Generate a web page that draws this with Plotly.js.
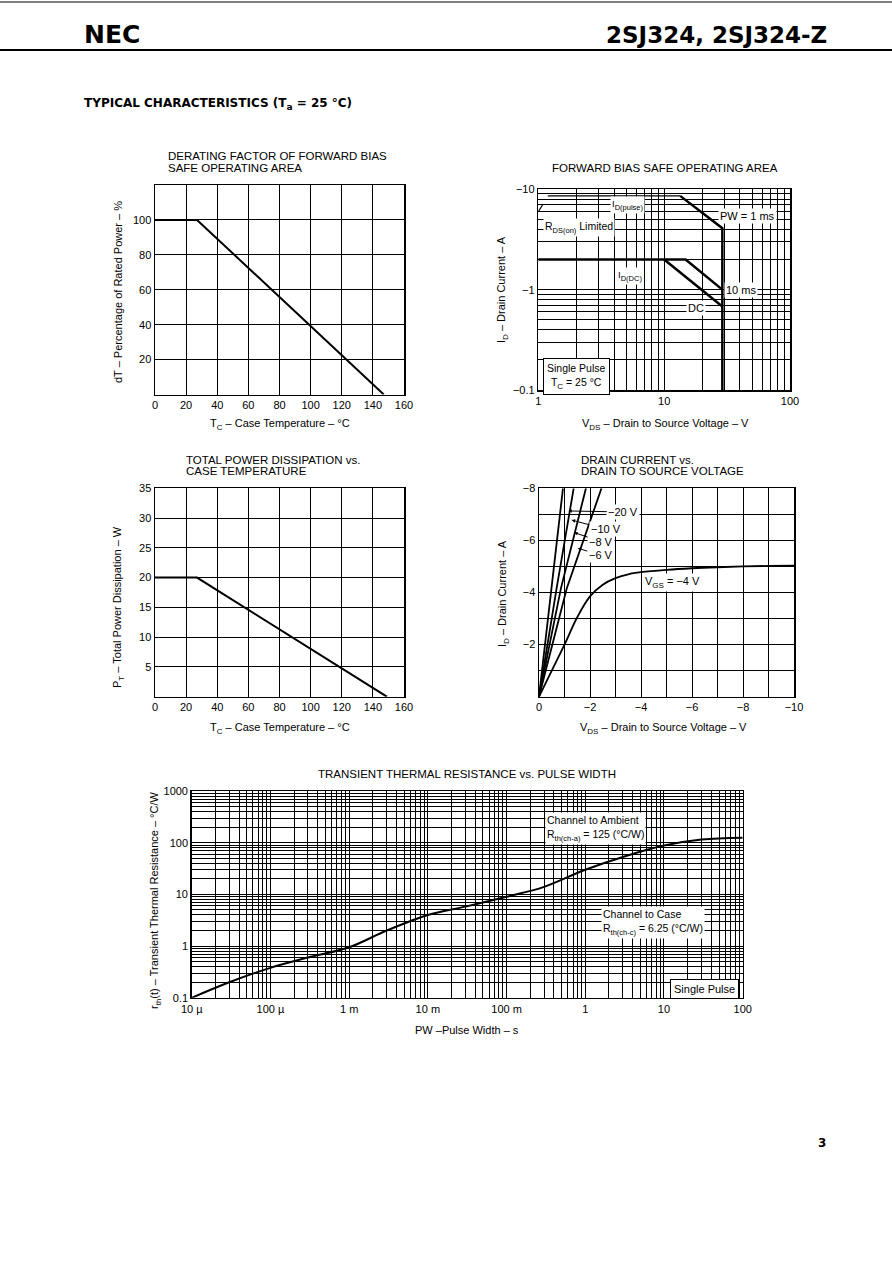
<!DOCTYPE html>
<html><head><meta charset="utf-8">
<script src="https://cdn.plot.ly/plotly-3.0.1.min.js"></script>
<style>html,body{margin:0;padding:0;background:#fff}#page{width:892px;height:1263px}</style>
</head><body><div id="page"></div>
<script>
// ---------------- data ----------------
// Derating factor of FBSOA
const derateTempC = [0, 27, 147];
const deratePct   = [100, 100, 0];
// Total power dissipation
const pdTempC = [0, 27, 149];
const pdWatt  = [20, 20, 0];
// Forward bias SOA (magnitudes: |VDS| in V, |ID| in A)
const rdsV   = [1, 1.2];        const rdsI   = [6.0, 8.6];
const pulseV = [1.2, 13.4];     const pulseI = [8.6, 8.6];
const pw1msV = [13.4, 29, 29];  const pw1msI = [8.6, 4.1, 0.1];
const pw10msV = [1, 14.8, 29];  const pw10msI = [2, 2, 1.0];
const dcV    = [10, 29];        const dcI    = [2, 0.68];
const soaXTickVals = [1, 10, 100];   const soaXTicks = ['1', '10', '100'];
const soaYTickVals = [0.1, 1, 10];   const soaYTicks = ['\u22120.1', '\u22121', '\u221210'];
// Drain current vs drain to source voltage
const vgs4V = [0, -0.5, -1, -1.5, -2, -2.5, -3, -3.5, -4, -5, -6, -7, -8, -9, -10];
const vgs4I = [0, -1.0, -2.0, -3.05, -3.85, -4.3, -4.55, -4.7, -4.78, -4.87, -4.93, -4.97, -5.0, -5.02, -5.03];
const vgs20V = [0, -0.5, -0.94];  const vgs20I = [0, -4.16, -8];
const vgs10V = [0, -0.69, -1.36]; const vgs10I = [0, -4.16, -8];
const vgs8V  = [0, -0.86, -1.84]; const vgs8I  = [0, -4.16, -8];
const vgs6V  = [0, -1.09, -2.45]; const vgs6I  = [0, -4.16, -8];
const vdsTickVals = [0, -2, -4, -6, -8, -10];
const vdsTicks = ['0', '\u22122', '\u22124', '\u22126', '\u22128', '\u221210'];
const idTickVals = [-2, -4, -6, -8];
const idTicks = ['\u22122', '\u22124', '\u22126', '\u22128'];
// Transient thermal resistance
const pwSec = [1e-5, 3e-5, 1e-4, 3e-4, 1e-3, 3e-3, 1e-2, 3e-2, 0.1, 0.3, 1, 3, 10, 30, 100];
const rthCW = [0.1, 0.2, 0.38, 0.6, 0.95, 2.0, 4.0, 5.8, 9, 14, 30, 53, 88, 115, 125];
const pwTickVals = [1e-5, 1e-4, 1e-3, 1e-2, 0.1, 1, 10, 100];
const pwTickText = ['10 \u00b5', '100 \u00b5', '1 m', '10 m', '100 m', '1', '10', '100'];
const rthTickVals = [0.1, 1, 10, 100, 1000];
const rthTickText = ['0.1', '1', '10', '100', '1000'];
// Temperature axes
const tempTicks = [0, 20, 40, 60, 80, 100, 120, 140, 160];
const pctTicks = [20, 40, 60, 80, 100];
const wattTicks = [5, 10, 15, 20, 25, 30, 35];

// ---------------- helpers ----------------
const W = 892, H = 1263;
const px = x => x / W;
const py = y => 1 - y / H;
const FONT = 'Liberation Sans, Arial, Helvetica, sans-serif';
const BOLD = 'DejaVu Sans, Liberation Sans, Arial, sans-serif';
// subscript as a styled span (no extra baseline-reset element)
const sb = (s, fs) => '<span style="font-size:' + (fs || 8) + 'px;baseline-shift:-3px">' + s + '</span>';

// minor grid positions of a log axis (2..9 in each decade)
function logMinor(e0, e1) {
  const v = [];
  for (let e = e0; e < e1; e++)
    for (let m = 2; m <= 9; m++) v.push(parseFloat((m * Math.pow(10, e)).toPrecision(3)));
  return v;
}

function axis(domain, range, tickvals, ticktext, anchor, type, minorVals) {
  const a = {
    domain: domain, range: range, anchor: anchor,
    showline: true, mirror: true, linecolor: '#000', linewidth: 1.5,
    showgrid: true, gridcolor: '#000', gridwidth: 1, zeroline: false,
    ticks: '', tickmode: 'array', tickvals: tickvals, ticktext: ticktext,
    tickfont: {family: FONT, size: 11, color: '#000'}, fixedrange: true
  };
  if (type) a.type = type;
  if (minorVals) a.minor = {tickmode: 'array', tickvals: minorVals, showgrid: true,
                            gridcolor: '#000', gridwidth: 1, ticks: ''};
  return a;
}

const line = (x, y, xa, ya, w, dash, shape) => ({
  x: x, y: y, xaxis: xa, yaxis: ya, type: 'scatter', mode: 'lines',
  line: {color: '#000', width: w || 2, dash: dash || 'solid', shape: shape || 'linear'},
  hoverinfo: 'skip'
});

// ---------------- traces ----------------
const traces = [
  line(derateTempC, deratePct, 'x', 'y', 2),
  line(rdsV, rdsI, 'x2', 'y2', 1.2, 'dash'),
  line(pulseV, pulseI, 'x2', 'y2', 1.2),
  line(pw1msV, pw1msI, 'x2', 'y2', 2.5),
  line(pw10msV, pw10msI, 'x2', 'y2', 2.5),
  line(dcV, dcI, 'x2', 'y2', 2.5),
  line(pdTempC, pdWatt, 'x3', 'y3', 2),
  line(vgs4V, vgs4I, 'x4', 'y4', 1.8, null, 'spline'),
  line(vgs20V, vgs20I, 'x4', 'y4', 1.8),
  line(vgs10V, vgs10I, 'x4', 'y4', 1.8),
  line(vgs8V, vgs8I, 'x4', 'y4', 1.8),
  line(vgs6V, vgs6I, 'x4', 'y4', 1.8),
  line(pwSec, rthCW, 'x5', 'y5', 2, null, 'spline')
];

// ---------------- axes ----------------
const d1x = [px(155), px(404)], d1y = [py(394.5), py(185)];
const d2x = [px(538.3), px(790)], d2y = [py(390), py(189.3)];
const d3x = [px(155), px(404)], d3y = [py(696.7), py(488.3)];
const d4x = [px(539), px(794)], d4y = [py(696.7), py(488.3)];
const d5x = [px(191.7), px(742.7)], d5y = [py(997.8), py(791)];

const layout = {
  width: W, height: H, margin: {l: 0, r: 0, t: 0, b: 0},
  paper_bgcolor: '#fff', plot_bgcolor: '#fff', showlegend: false,
  font: {family: FONT, size: 11, color: '#000'},
  xaxis: axis(d1x, [0, 160], tempTicks, tempTicks.map(String), 'y'),
  yaxis: axis(d1y, [0, 120], pctTicks, pctTicks.map(String), 'x'),
  xaxis2: axis(d2x, [0, 2], soaXTickVals, soaXTicks, 'y2', 'log', logMinor(0, 2)),
  yaxis2: axis(d2y, [-1, 1], soaYTickVals, soaYTicks, 'x2', 'log', logMinor(-1, 1)),
  xaxis3: axis(d3x, [0, 160], tempTicks, tempTicks.map(String), 'y3'),
  yaxis3: axis(d3y, [0, 35], wattTicks, wattTicks.map(String), 'x3'),
  xaxis4: axis(d4x, [0, -10], vdsTickVals, vdsTicks, 'y4', null, [-1, -3, -5, -7, -9]),
  yaxis4: axis(d4y, [0, -8], idTickVals, idTicks, 'x4', null, [-1, -3, -5, -7]),
  xaxis5: axis(d5x, [-5, 2], pwTickVals, pwTickText, 'y5', 'log', logMinor(-5, 2)),
  yaxis5: axis(d5y, [-1, 3], rthTickVals, rthTickText, 'x5', 'log', logMinor(-1, 3)),
  shapes: [
    {type: 'line', xref: 'paper', yref: 'paper', x0: 0, x1: 1, y0: py(2), y1: py(2), line: {color: '#000', width: 1}},
    {type: 'line', xref: 'paper', yref: 'paper', x0: 0, x1: 1, y0: py(50), y1: py(50), line: {color: '#000', width: 2}}
  ],
  annotations: []
};

function txt(t, x, y, opt) {
  opt = opt || {};
  layout.annotations.push(Object.assign({
    text: t, xref: 'paper', yref: 'paper', x: px(x), y: py(y),
    xanchor: opt.xa || 'center', yanchor: opt.ya || 'middle', showarrow: false,
    textangle: opt.angle || 0, align: opt.align || 'left',
    font: {family: opt.family || FONT, size: opt.size || 11, color: '#000'}
  }, opt.extra || {}));
}

// page header
txt('<b>NEC</b>', 82, 35, {xa: 'left', family: BOLD, size: 25});
txt('<b>2SJ324, 2SJ324-Z</b>', 829, 35, {xa: 'right', family: BOLD, size: 23});
txt('<b>TYPICAL CHARACTERISTICS (T' + sb('a', 9) + ' = 25 \u00b0C)</b>', 82, 104, {xa: 'left', family: BOLD, size: 12});
txt('<b>3</b>', 822, 1143, {family: BOLD, size: 12});

// chart titles
txt('DERATING FACTOR OF FORWARD BIAS', 166, 156, {xa: 'left', size: 11.5});
txt('SAFE OPERATING AREA', 166, 168, {xa: 'left', size: 11.5});
txt('FORWARD BIAS SAFE OPERATING AREA', 665, 168, {size: 11.5});
txt('TOTAL POWER DISSIPATION vs.', 184, 460, {xa: 'left', size: 11.5});
txt('CASE TEMPERATURE', 184, 471, {xa: 'left', size: 11.5});
txt('DRAIN CURRENT vs.', 579, 460, {xa: 'left', size: 11.5});
txt('DRAIN TO SOURCE VOLTAGE', 579, 471, {xa: 'left', size: 11.5});
txt('TRANSIENT THERMAL RESISTANCE vs. PULSE WIDTH', 467, 774, {size: 11.5});

// axis titles
txt('dT \u2013 Percentage of Rated Power \u2013 %', 118, 292, {angle: -90});
txt('T' + sb('C') + ' \u2013 Case Temperature \u2013 \u00b0C', 280, 425);
txt('I' + sb('D') + ' \u2013 Drain Current \u2013 A', 503, 290, {angle: -90});
txt('V' + sb('DS') + ' \u2013 Drain to Source Voltage \u2013 V', 665, 425);
txt('P' + sb('T') + ' \u2013 Total Power Dissipation \u2013 W', 118, 607, {angle: -90});
txt('T' + sb('C') + ' \u2013 Case Temperature \u2013 \u00b0C', 280, 728);
txt('I' + sb('D') + ' \u2013 Drain Current \u2013 A', 503, 594, {angle: -90});
txt('V' + sb('DS') + ' \u2013 Drain to Source Voltage \u2013 V', 663, 728);
txt('r' + sb('th') + '(t) \u2013 Transient Thermal Resistance \u2013 \u00b0C/W', 155, 900, {angle: -90});
txt('PW \u2013Pulse Width \u2013 s', 467, 1030);

// SOA labels
const wb = {bgcolor: '#fff'};
txt('I' + sb('D(pulse)', 7.5), 627, 205, {size: 9.5, extra: wb});
txt('R' + sb('DS(on)', 7.5) + ' Limited', 579, 228, {size: 10.5, extra: wb});
txt('PW = 1 ms', 747, 216, {size: 11, extra: wb});
txt('I' + sb('D(DC)', 7.5), 630, 276, {size: 9.5, extra: wb});
txt('10 ms', 741, 290, {size: 11, extra: wb});
txt('DC', 696, 308, {size: 11, extra: wb});
txt('Single Pulse<br>T' + sb('C') + ' = 25 \u00b0C', 576, 377, {size: 10.5, align: 'center',
  extra: {bgcolor: '#fff', bordercolor: '#000', borderwidth: 1, borderpad: 3}});

// drain current labels with leader arrows
function lead(t, vx, iy, ax, ay) {
  layout.annotations.push({
    text: t, xref: 'x4', yref: 'y4', x: vx, y: iy, ax: ax, ay: ay,
    showarrow: true, arrowhead: 2, arrowsize: 0.7, arrowwidth: 1, arrowcolor: '#000',
    bgcolor: '#fff', font: {family: FONT, size: 11, color: '#000'}
  });
}
lead('\u221220 V', -1.15, -7.13, 55, 1);
lead('\u221210 V', -1.28, -6.78, 34, 9);
lead('\u22128 V', -1.38, -6.30, 27, 9);
lead('\u22126 V', -1.52, -5.70, 23, 7);
txt('V' + sb('GS') + ' = \u22124 V', 672, 582, {size: 11, extra: wb});

// transient labels
txt('Channel to Ambient<br>R' + sb('th(ch-a)', 7.5) + ' = 125 (\u00b0C/W)', 595, 828, {size: 10.5, extra: wb});
txt('Channel to Case<br>R' + sb('th(ch-c)', 7.5) + ' = 6.25 (\u00b0C/W)', 653, 923, {size: 10.5, extra: wb});
txt('Single Pulse', 704, 989, {size: 11,
  extra: {bgcolor: '#fff', bordercolor: '#000', borderwidth: 1, borderpad: 3}});

Plotly.newPlot('page', traces, layout, {staticPlot: true, displayModeBar: false});
</script>
</body></html>
